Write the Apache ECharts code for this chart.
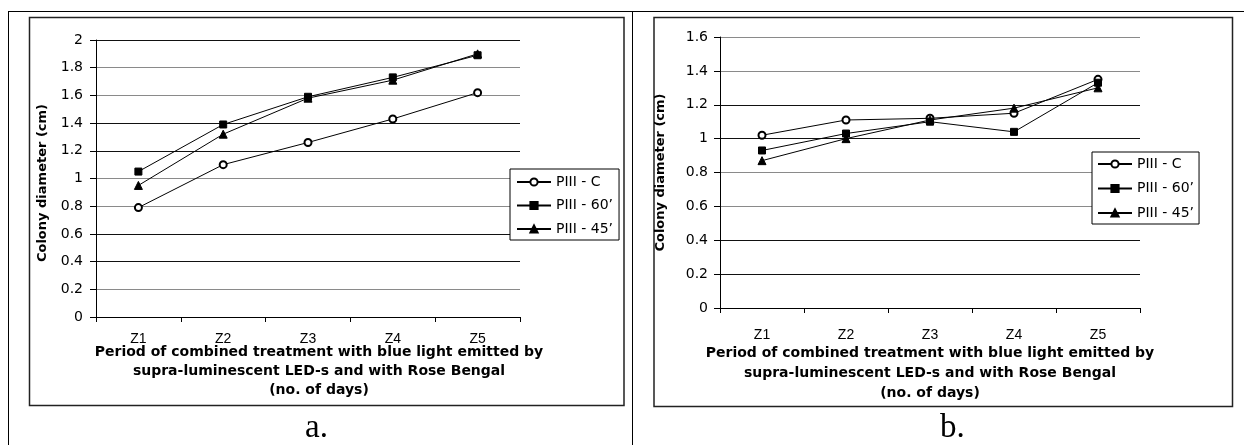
<!DOCTYPE html>
<html><head><meta charset="utf-8">
<script src="https://cdn.jsdelivr.net/npm/echarts@6/dist/echarts.min.js"></script>
<style>html,body{margin:0;padding:0;background:#fff}#c{width:1244px;height:445px}</style>
</head><body><div id="c"></div>
<script>
const categories = ['Z1', 'Z2', 'Z3', 'Z4', 'Z5'];
const seriesNames = ['PIII - C', 'PIII - 60’', 'PIII - 45’'];
const chartA_C  = [0.79, 1.10, 1.26, 1.43, 1.62];
const chartA_60 = [1.05, 1.39, 1.59, 1.73, 1.89];
const chartA_45 = [0.95, 1.32, 1.58, 1.71, 1.90];
const chartB_C  = [1.02, 1.11, 1.12, 1.15, 1.35];
const chartB_60 = [0.93, 1.03, 1.10, 1.04, 1.33];
const chartB_45 = [0.87, 1.00, 1.11, 1.18, 1.30];
const yMaxA = 2, yMaxB = 1.6, yStep = 0.2;
const xTitle = 'Period of combined treatment with blue light emitted by\nsupra-luminescent LED-s and with Rose Bengal\n(no. of days)';
const yTitle = 'Colony diameter (cm)';
const panelLabels = ['a.', 'b.'];

const chart = echarts.init(document.getElementById('c'), null, {renderer: 'canvas'});
const G = '#8a8a8a', D = '#111';
const symbols = ['emptyCircle', 'rect', 'triangle'];
const sizes = [7, 7, 8];

function xAxis(gi, margin, gap, lh, pad) {
  return {
    type: 'category', gridIndex: gi, data: categories, boundaryGap: true,
    axisLine: {lineStyle: {color: '#000', width: 1}},
    axisTick: {show: true, length: 5, lineStyle: {color: '#000'}},
    axisLabel: {margin: margin, color: '#000', fontFamily: 'Liberation Sans', fontSize: 14},
    name: xTitle, nameLocation: 'middle', nameGap: gap, nameMoveOverlap: false,
    nameTextStyle: {color: '#000', fontFamily: 'DejaVu Sans', fontWeight: 'bold', fontSize: 14, lineHeight: lh, padding: pad}
  };
}
function yAxis(gi, max, margin, gap, colors, pad) {
  return {
    type: 'value', gridIndex: gi, min: 0, max: max, interval: yStep,
    axisLine: {show: true, lineStyle: {color: '#000', width: 1}},
    axisTick: {show: true, length: 6, lineStyle: {color: '#000'}},
    axisLabel: {margin: margin, color: '#000', fontFamily: 'DejaVu Sans', fontSize: 14},
    splitLine: {show: true, lineStyle: {color: colors, width: 1}},
    name: yTitle, nameLocation: 'middle', nameGap: gap, nameMoveOverlap: false,
    nameTextStyle: {color: '#000', fontFamily: 'DejaVu Sans', fontWeight: 'bold', fontSize: 13, padding: pad}
  };
}
function mk(name, data, idx, gi) {
  return {
    type: 'line', name: name, xAxisIndex: gi, yAxisIndex: gi, data: data,
    symbol: symbols[idx], symbolSize: sizes[idx], showSymbol: true,
    lineStyle: {color: '#000', width: 1}, itemStyle: {color: '#000', borderColor: '#000', borderWidth: 1},
    animation: false
  };
}
function legend(left, top, gap, pad) {
  return {
    data: seriesNames, orient: 'vertical', left: left, top: top, itemGap: gap,
    itemWidth: 34, itemHeight: 9, padding: pad,
    backgroundColor: '#fff', borderColor: '#000', borderWidth: 1, borderRadius: 0,
    selectedMode: false,
    textStyle: {color: '#000', fontFamily: 'DejaVu Sans', fontSize: 14, lineHeight: 16}
  };
}
function line(x1, y1, x2, y2, w, c) {
  return {type: 'line', silent: true, shape: {x1, y1, x2, y2}, style: {stroke: c, lineWidth: w}};
}

chart.setOption({
  animation: false,
  backgroundColor: '#fff',
  grid: [
    {left: 96, top: 40, width: 424, height: 277},
    {left: 720, top: 37, width: 420, height: 271}
  ],
  xAxis: [xAxis(0, 15, 26, 19, [0, 0, 0, 22]), xAxis(1, 20, 35, 20, 0)],
  yAxis: [yAxis(0, yMaxA, 13, 47, [G, G, D, D], [0, 9, 0, 0]), yAxis(1, yMaxB, 12, 53, [G, D, D, G], 0)],
  legend: [legend(510, 169, 7.5, [5, 6, 3, 6]), legend(1092, 152, 8.5, [4, 5, 3, 5])],
  series: [
    mk(seriesNames[0], chartA_C, 0, 0), mk(seriesNames[1], chartA_60, 1, 0), mk(seriesNames[2], chartA_45, 2, 0),
    mk(seriesNames[0], chartB_C, 0, 1), mk(seriesNames[1], chartB_60, 1, 1), mk(seriesNames[2], chartB_45, 2, 1)
  ],
  graphic: [
    line(8, 11.5, 1244, 11.5, 1, '#000'),
    line(8.5, 11.5, 8.5, 445, 1, '#000'),
    line(632.5, 11.5, 632.5, 445, 1, '#000'),
    {type: 'rect', silent: true, shape: {x: 29.5, y: 17.5, width: 594.5, height: 388}, style: {fill: 'none', stroke: '#222', lineWidth: 1.5}},
    {type: 'rect', silent: true, shape: {x: 654, y: 17.5, width: 578.5, height: 389}, style: {fill: 'none', stroke: '#222', lineWidth: 1.5}},
    {type: 'text', silent: true, left: 305, top: 412, style: {text: panelLabels[0], font: '33px "Liberation Serif"', fill: '#000'}},
    {type: 'text', silent: true, left: 940, top: 412, style: {text: panelLabels[1], font: '33px "Liberation Serif"', fill: '#000'}}
  ]
});
</script></body></html>
